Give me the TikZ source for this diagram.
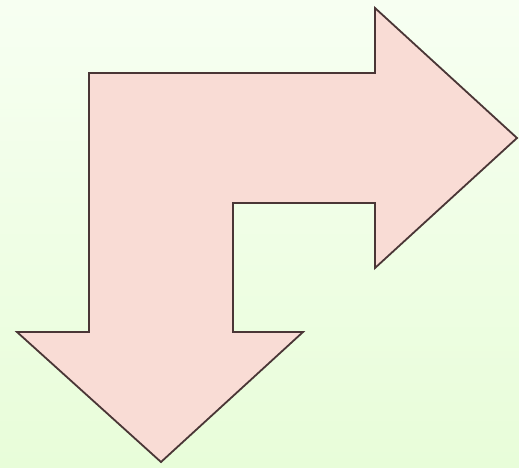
\documentclass[tikz,border=0pt]{standalone}
\definecolor{bgtop}{HTML}{F7FFF2}
\definecolor{bgbot}{HTML}{E8FDD9}
\definecolor{arrfill}{HTML}{F9DCD5}
\definecolor{arrline}{HTML}{4A3636}
\tikzset{arrowshape/.style={fill=arrfill, draw=arrline, line width=1.8pt, line join=miter}}
\begin{document}
\begin{tikzpicture}[x=1pt,y=-1pt]
\shade[top color=bgtop, bottom color=bgbot] (0,0) rectangle (519,467);
\useasboundingbox (0,0) rectangle (519,467);
\draw[arrowshape] (89,73) -- (375,73) -- (375,8) -- (517,138) -- (375,268) -- (375,203)
  -- (233,203) -- (233,332) -- (303,332) -- (161,462) -- (17,332) -- (89,332) -- cycle;
\end{tikzpicture}
\end{document}
